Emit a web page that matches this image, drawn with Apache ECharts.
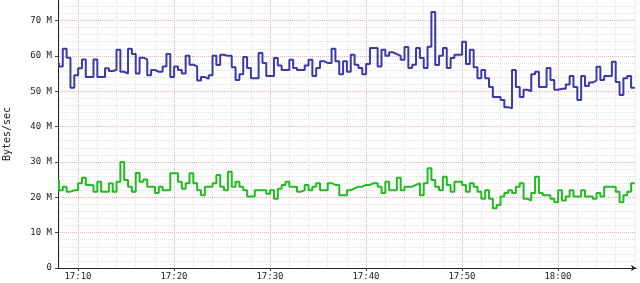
<!DOCTYPE html>
<html>
<head>
<meta charset="utf-8">
<script src="https://cdn.jsdelivr.net/npm/echarts@6/dist/echarts.min.js"></script>
<style>
html,body{margin:0;padding:0;background:#fff;}
#c{width:640px;height:283px;}
</style>
</head>
<body>
<div id="c"></div>
<script>
// Time: minutes after 17:00; samples every 24 s starting 17:08:01
const startMinute = 8.0167;
const stepMinutes = 0.4;
const xMin = 7.92, xMax = 68.13;
const xTickLabels = [10, 20, 30, 40, 50, 60];          // 17:10 ... 18:00
const xMinorGrid = [8,10,12,14,16,18,20,22,24,26,28,30,32,34,36,38,40,42,44,46,48,50,52,54,56,58,60,62,64,66,68];
const yTickLabels = [0, 10, 20, 30, 40, 50, 60, 70];   // M bytes/sec
const yMinorGrid = [2,4,6,8,10,12,14,16,18,20,22,24,26,28,30,32,34,36,38,40,42,44,46,48,50,52,54,56,58,60,62,64,66,68,70,72,74];
const yMax = 75.8;

const seriesNames = ['out', 'in'];
const blueValues = [
58,57,62,59.5,51,54.5,56.5,59,54,54,59,54,54,56.5,55.7,56,61.7,55.5,55,62,
60.5,55,59.5,59,54.5,56,55.5,55.5,57,60.5,54,57,56,55,60,57.5,57,53,54,53.5,
54.5,60,57.4,60.3,60,60,56.8,53.2,54.8,59.7,56.6,53.7,53.7,60.8,58,54.3,54.3,59.4,57.3,56,
56,58.9,56.6,56,56,57.3,58.9,54.3,56.6,58.5,58,58,62,58.5,54.8,58.5,55.5,60.3,57.5,56.6,
54.8,57.7,62.2,62.2,57,61.7,60,61,60.5,60,58.9,62.5,56.6,57.5,62.2,59.4,56.6,62.6,72.4,57.4,
60,62.2,56.6,59.4,60.3,60.3,64,57.7,61.7,56.8,53.7,56,53.7,51.2,48.4,48.4,47.5,45.5,45.2,56,
51.2,48.4,50.4,50,54.8,55.5,51.2,51.2,56.6,53.2,50.4,50.7,50.7,51.9,54.3,51.2,47.5,54.3,51.5,52.5,
53,56.9,53.2,54.3,54.3,58.3,52.6,48.9,53.7,54.3,51
];
const greenValues = [
24.9,22,23,21.6,22,22,24,25.5,23.5,23.4,21.6,24.4,21.6,21.6,24,21.6,24.4,30,24.9,23,
21.6,26.9,24.4,25,23,23,21.2,23,22,22,26.8,26.8,24.4,22.4,24,26.8,24,22,20.6,23,
23,24,26.3,23,22,27.2,23,24.4,23,22,20.2,20.2,22,22,22,21,22,19.6,22.4,23.5,
24.4,23,23,21.6,22,23.5,22,23,24,22,22,24,23.5,23.5,20.6,20.6,22,22.5,23,23,
23.5,23.5,24,24,23,21.2,24.4,22,22,25.5,22,23,23,23.5,24,20.6,24,28.2,24.9,23,
22,25.8,23.5,21.6,24.4,24.4,23.5,21.6,24,23,21.6,19.6,22,19.6,16.9,17.8,20.2,21.2,22,21.2,
23,24,19.6,19.1,21.2,25.8,21.2,20.6,20.6,19.6,18.6,22,19.1,20.2,22,20.2,20.2,22,20.2,20.2,
19.6,21.2,20.2,23,23,23,21.6,18.6,20.6,21.6,24
];

function pairs(vals){
  return vals.map((v,i)=>[startMinute + i*stepMinutes, v]);
}
function fmtTime(m){
  const h = 17 + Math.floor(m/60);
  const mm = Math.round(m % 60);
  return h + ':' + (mm<10?'0':'') + mm;
}

const font = 'DejaVu Sans Mono';
const chart = echarts.init(document.getElementById('c'), null, {renderer:'canvas'});
chart.setOption({
  animation:false,
  backgroundColor:'#ffffff',
  grid:{left:58, right:4, top:0, bottom:15, containLabel:false, outerBoundsMode:'none'},
  xAxis:[
    { type:'value', min:xMin, max:xMax, gridIndex:0, position:'bottom',
      axisLine:{show:false}, axisLabel:{show:false},
      axisTick:{show:false, customValues:xMinorGrid},
      splitLine:{show:true, lineStyle:{color:'#e2e2e2', width:1, type:[1,1]}} },
    { type:'value', min:xMin, max:xMax, gridIndex:0, position:'bottom',
      axisLine:{show:true, onZero:false, lineStyle:{color:'#222', width:1}, symbol:['none','arrow'], symbolSize:[5,5]},
      axisTick:{show:true, length:3, lineStyle:{color:'#444'}, customValues:xTickLabels},
      axisLabel:{show:true, customValues:xTickLabels, formatter:fmtTime, color:'#222', fontFamily:font, fontSize:9, margin:4},
      splitLine:{show:true, lineStyle:{color:'#edb4b4', width:1, type:[1,1]}} }
  ],
  yAxis:[
    { type:'value', min:0, max:yMax, position:'left',
      axisLine:{show:false}, axisLabel:{show:false},
      axisTick:{show:false, customValues:yMinorGrid},
      splitLine:{show:true, lineStyle:{color:'#e2e2e2', width:1, type:[1,1]}} },
    { type:'value', min:0, max:yMax, position:'left',
      name:'Bytes/sec', nameLocation:'middle', nameGap:46, nameRotate:90,
      nameTextStyle:{fontFamily:font, fontSize:10, color:'#222'},
      axisLine:{show:true, onZero:false, lineStyle:{color:'#222', width:1}},
      axisTick:{show:true, length:3, lineStyle:{color:'#444'}, customValues:yTickLabels},
      axisLabel:{color:'#222', fontFamily:font, fontSize:9, margin:6, customValues:yTickLabels,
        formatter:v => v===0 ? '0' : v + ' M'},
      splitLine:{show:true, lineStyle:{color:'#edb4b4', width:1, type:[1,1]}} }
  ],
  series:[
    { name:seriesNames[0], type:'line', xAxisIndex:1, yAxisIndex:1, step:'start', showSymbol:false,
      data:pairs(blueValues), lineStyle:{color:'#3a3aaa', width:2}, z:3 },
    { name:seriesNames[1], type:'line', xAxisIndex:1, yAxisIndex:1, step:'start', showSymbol:false,
      data:pairs(greenValues), lineStyle:{color:'#22bb22', width:2}, z:3 }
  ]
});
</script>
</body>
</html>
